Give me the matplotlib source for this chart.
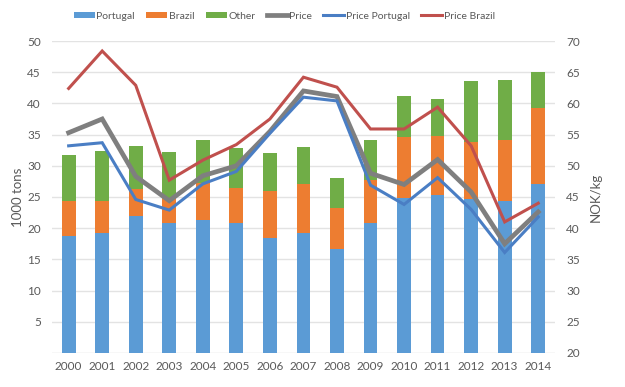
import matplotlib

matplotlib.use("Agg")
import matplotlib.pyplot as plt
import numpy as np

years = [str(y) for y in range(2000, 2015)]

# volumes, 1000 tons
portugal = [18.8, 19.2, 22.0, 20.9, 21.3, 20.8, 18.5, 19.2, 16.7, 20.9, 24.8, 25.3, 24.7, 24.4, 27.1]
brazil_top = [24.4, 24.3, 26.3, 24.9, 27.2, 26.5, 25.9, 27.1, 23.3, 27.8, 34.6, 34.8, 33.8, 34.1, 39.2]
total = [31.8, 32.4, 33.1, 32.2, 34.2, 32.8, 32.0, 33.0, 28.0, 34.2, 41.2, 40.7, 43.6, 43.8, 45.1]

brazil = [b - p for b, p in zip(brazil_top, portugal)]
other = [t - b for t, b in zip(total, brazil_top)]

# prices, NOK/kg
price = [55.3, 57.5, 48.3, 44.4, 48.4, 50.0, 55.5, 62.0, 61.1, 48.8, 47.0, 51.0, 45.8, 37.5, 42.6]
price_portugal = [53.2, 53.7, 44.6, 42.9, 47.1, 49.1, 55.2, 61.0, 60.4, 46.9, 43.8, 48.1, 43.0, 36.1, 41.8]
price_brazil = [62.4, 68.4, 62.9, 47.7, 50.9, 53.4, 57.5, 64.2, 62.6, 55.9, 55.9, 59.4, 53.2, 41.0, 44.0]

C_PORT = "#5B9BD5"
C_BRA = "#ED7D31"
C_OTH = "#70AD47"
C_PRICE = "#7F7F7F"
C_PPORT = "#4A7EC4"
C_PBRA = "#C0504D"
TXT = "#595959"

plt.rcParams["font.family"] = ["Lato", "DejaVu Sans"]

fig = plt.figure(figsize=(6.25, 3.87), dpi=100)
ax = fig.add_axes([0.083, 0.088, 0.805, 0.806])
ax2 = ax.twinx()

x = np.arange(len(years))
w = 0.41
b1 = ax.bar(x, portugal, w, color=C_PORT, label="Portugal", zorder=2)
b2 = ax.bar(x, brazil, w, bottom=portugal, color=C_BRA, label="Brazil", zorder=2)
b3 = ax.bar(x, other, w, bottom=brazil_top, color=C_OTH, label="Other", zorder=2)

l1, = ax2.plot(x, price, color=C_PRICE, lw=3.4, label="Price", solid_joinstyle="miter")
l2, = ax2.plot(x, price_portugal, color=C_PPORT, lw=2.2, label="Price Portugal", solid_joinstyle="miter")
l3, = ax2.plot(x, price_brazil, color=C_PBRA, lw=2.2, label="Price Brazil", solid_joinstyle="miter")

ax.set_xlim(-0.5, len(years) - 0.5)
ax.set_ylim(0, 50)
ax2.set_ylim(20, 70)
ax.set_yticks(range(5, 51, 5))
ax2.set_yticks(range(20, 71, 5))
ax.set_xticks(x)
ax.set_xticklabels(years)

ax.grid(axis="y", color="#E3E3E3", lw=1, zorder=0)
ax.axhline(0, color="#D9D9D9", lw=1, zorder=1)
ax.set_axisbelow(True)

for a in (ax, ax2):
    for s in a.spines.values():
        s.set_visible(False)
    a.tick_params(length=0, labelsize=8.5, colors=TXT)
ax.tick_params(axis="x", pad=6)
ax.tick_params(axis="y", pad=8)
ax2.tick_params(axis="y", pad=8)

ax.set_ylabel("1000 tons", color=TXT, fontsize=9.5, labelpad=2)
ax2.set_ylabel("NOK/kg", color=TXT, fontsize=9.5, labelpad=7)

fig.legend(
    [b1, b2, b3, l1, l2, l3],
    ["Portugal", "Brazil", "Other", "Price", "Price Portugal", "Price Brazil"],
    loc="center",
    bbox_to_anchor=(0.455, 0.958),
    ncol=6,
    frameon=False,
    fontsize=7.5,
    labelcolor=TXT,
    handlelength=2.0,
    handleheight=0.5,
    handletextpad=0.15,
    columnspacing=1.1,
)

fig.savefig("out.png", dpi=100)
